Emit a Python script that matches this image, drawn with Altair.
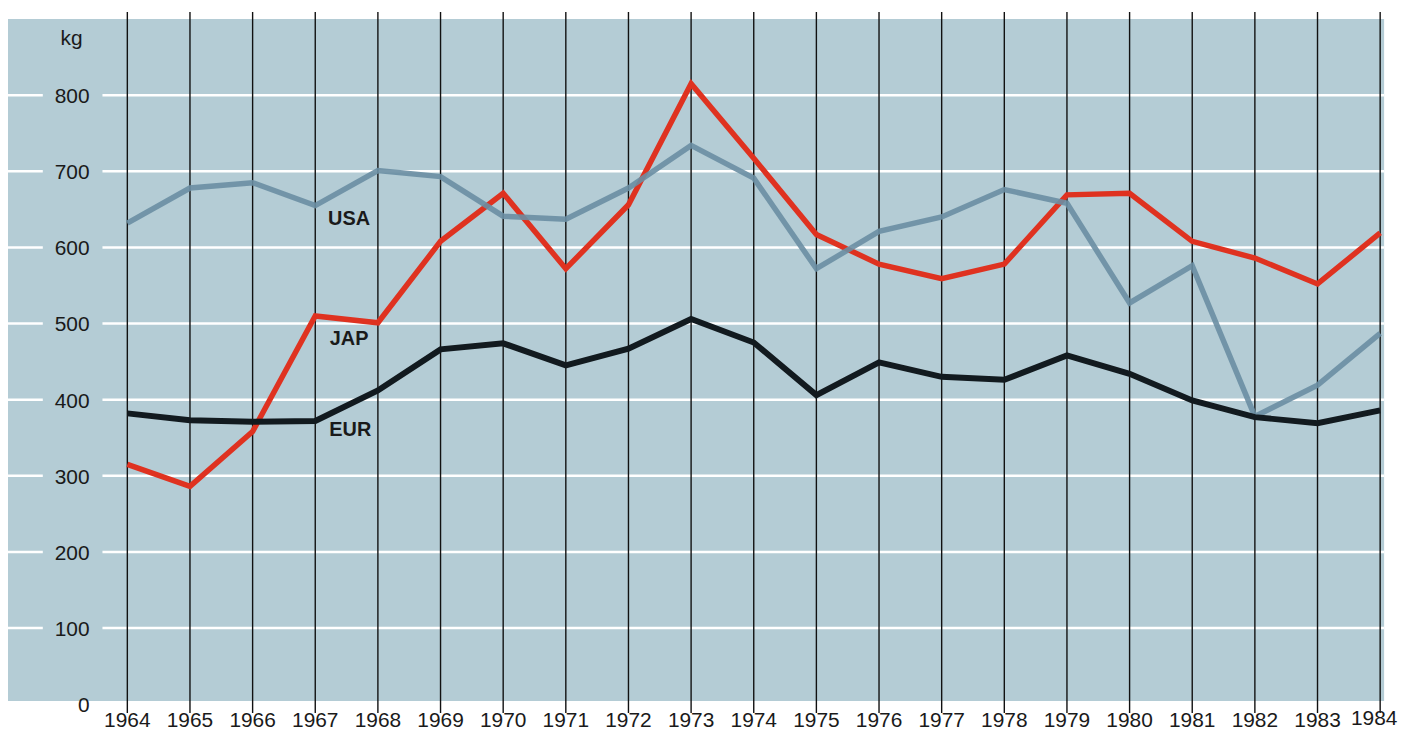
import altair as alt
import pandas as pd

years = list(range(1964, 1985))
usa = [632, 678, 685, 655, 701, 693, 641, 637, 678, 734, 691, 572, 621, 640, 676, 658, 527, 576, 378, 419, 487]
jap = [315, 286, 358, 510, 501, 608, 671, 572, 656, 815, 717, 617, 578, 559, 578, 669, 671, 608, 586, 552, 619]
eur = [382, 373, 371, 372, 412, 466, 474, 445, 467, 506, 475, 406, 449, 430, 426, 458, 434, 399, 377, 369, 386]

series_names = ["USA", "JAP", "EUR"]
series_colors = ["#6a8ea3", "#df3220", "#121a1f"]
label_years = [1967.54, 1967.54, 1967.56]
label_values = [637, 480, 360]

y_ticks = [0, 100, 200, 300, 400, 500, 600, 700, 800]
grid_values = [100, 200, 300, 400, 500, 600, 700, 800]

W, H = 1384, 686
xs = alt.Scale(domain=[1962.095, 1984.063], nice=False, zero=False)
ys = alt.Scale(domain=[4, 900], nice=False, zero=False)

rows = []
for name, vals in zip(series_names, [usa, jap, eur]):
    for yr, v in zip(years, vals):
        rows.append({"year": yr, "value": v, "series": name})
df = pd.DataFrame(rows)

grid_df = pd.DataFrame({"value": grid_values})
ytick_df = pd.DataFrame({"value": y_ticks, "label": [str(v) for v in y_ticks]})
year_df = pd.DataFrame({"year": years, "label": [str(y) for y in years]})
year_main = year_df[year_df.year < 1984]
year_last = year_df[year_df.year == 1984]
lab_df = pd.DataFrame({"year": label_years, "value": label_values, "series": series_names})

FONT = "Liberation Sans"
TXT = "#1a1a1a"

grid_left = alt.Chart(grid_df).mark_rule(color="white", strokeWidth=2.5).encode(
    y=alt.Y("value:Q", scale=ys, axis=None), x=alt.value(0), x2=alt.value(35))
grid_right = alt.Chart(grid_df).mark_rule(color="white", strokeWidth=2.5).encode(
    y=alt.Y("value:Q", scale=ys, axis=None), x=alt.value(95), x2=alt.value(W))

vrules = alt.Chart(year_df).mark_rule(color="#111111", strokeWidth=1.4, clip=False).encode(
    x=alt.X("year:Q", scale=xs, axis=None), y=alt.value(-7), y2=alt.value(H + 12))

ylabels = alt.Chart(ytick_df).mark_text(
    align="right", baseline="middle", fontSize=21, font=FONT, color=TXT, clip=False, dy=2
).encode(y=alt.Y("value:Q", scale=ys, axis=None), x=alt.value(82), text="label:N")

kg = alt.Chart(pd.DataFrame({"t": ["kg"]})).mark_text(
    align="center", baseline="middle", fontSize=21, font=FONT, color=TXT
).encode(x=alt.value(64), y=alt.value(20), text="t:N")

xlabels = alt.Chart(year_main).mark_text(
    align="center", baseline="middle", fontSize=21, font=FONT, color=TXT, clip=False
).encode(x=alt.X("year:Q", scale=xs, axis=None), y=alt.value(H + 20), text="label:N")

xlabel_last = alt.Chart(year_last).mark_text(
    align="center", baseline="middle", fontSize=21, font=FONT, color=TXT, clip=False, dx=-6
).encode(x=alt.X("year:Q", scale=xs, axis=None), y=alt.value(H + 18), text="label:N")

color_scale = alt.Scale(domain=series_names, range=series_colors)

def line_for(name, width, opacity=1.0):
    return alt.Chart(df[df.series == name]).mark_line(
        strokeWidth=width, opacity=opacity, strokeJoin="miter", strokeCap="butt"
    ).encode(
        x=alt.X("year:Q", scale=xs, axis=None),
        y=alt.Y("value:Q", scale=ys, axis=None),
        color=alt.Color("series:N", scale=color_scale, legend=None),
    )

lab = alt.Chart(lab_df).mark_text(
    align="center", baseline="middle", fontSize=20, fontWeight="bold", font=FONT, color=TXT
).encode(x=alt.X("year:Q", scale=xs, axis=None), y=alt.Y("value:Q", scale=ys, axis=None), text="series:N")

chart = alt.layer(
    grid_left, grid_right, vrules,
    line_for("JAP", 5.5), line_for("USA", 5.5, 0.9), line_for("EUR", 6),
    ylabels, kg, xlabels, xlabel_last, lab
).properties(
    width=W, height=H, autosize="none",
    padding={"left": 0, "top": 9, "right": 18, "bottom": 30},
    background="white",
).configure_view(fill="#b4ccd5", stroke=None)

chart.save("out.html", embed_options={"renderer": "svg", "actions": False})
